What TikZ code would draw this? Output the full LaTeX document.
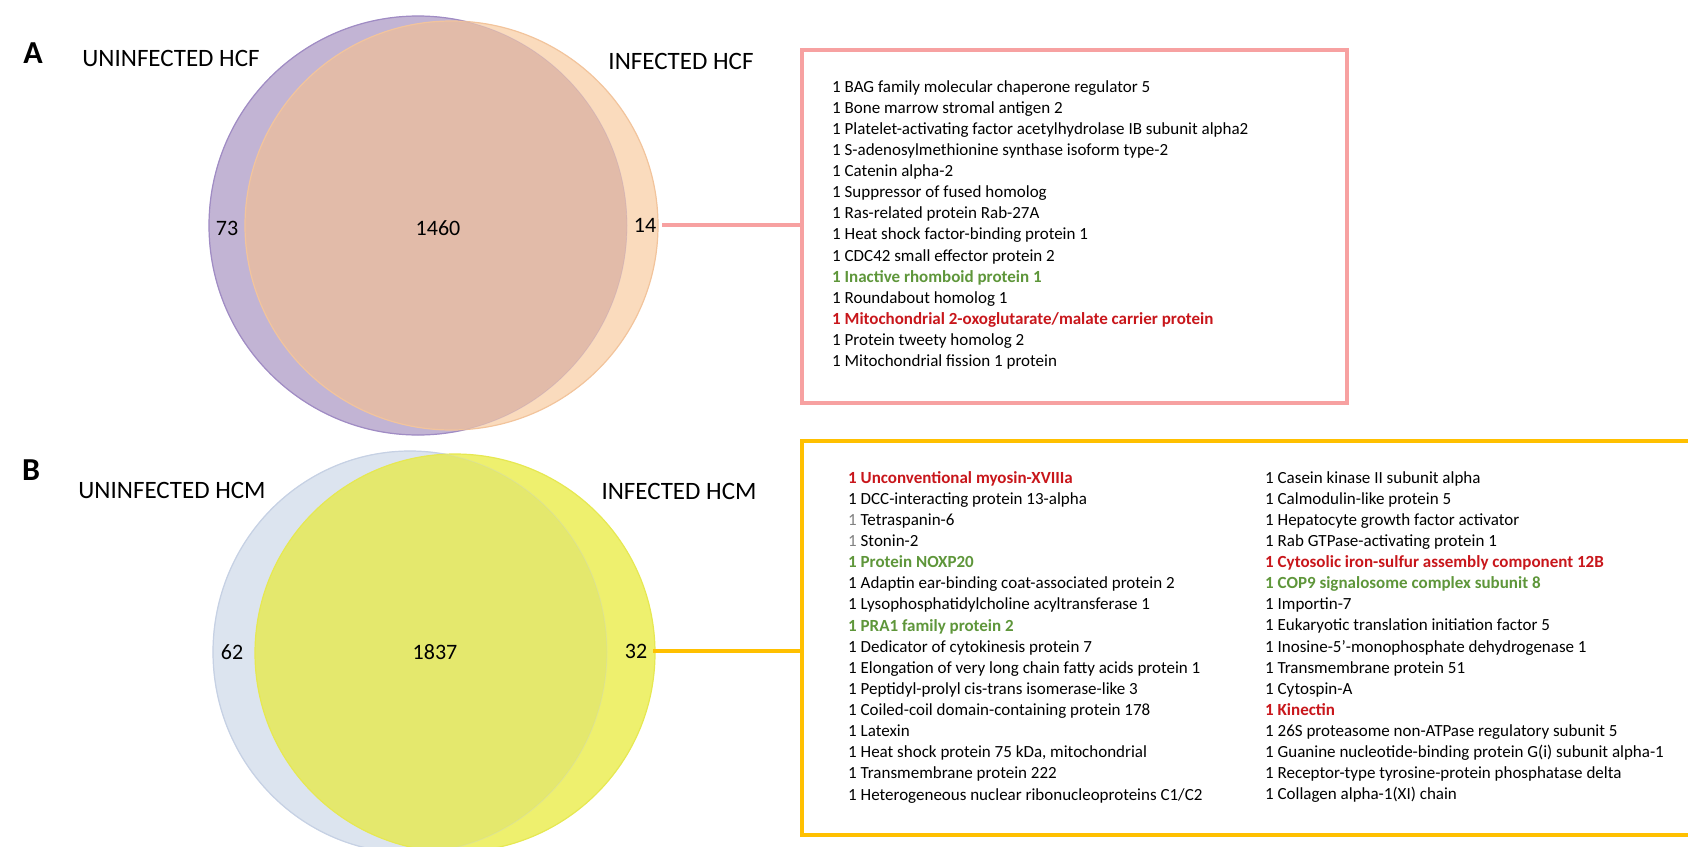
\documentclass[tikz,border=0pt]{standalone}
\usepackage{fontspec}
\setmainfont{Carlito}
\usepackage{tikz}
\usetikzlibrary{positioning,calc}
\definecolor{hcfU}{HTML}{C2B4D4}
\definecolor{hcfUline}{HTML}{A08CC4}
\definecolor{hcfI}{HTML}{FADBBD}
\definecolor{hcfIline}{HTML}{F2C49C}
\definecolor{hcfboth}{HTML}{E2BBA9}
\definecolor{hcmU}{HTML}{DCE4EF}
\definecolor{hcmUline}{HTML}{C6D1E4}
\definecolor{hcmI}{HTML}{EEF06E}
\definecolor{hcmIline}{HTML}{E6E852}
\definecolor{hcmboth}{HTML}{E4E86D}
\definecolor{pinkline}{HTML}{F7A1A1}
\definecolor{goldline}{HTML}{FFC000}
\definecolor{lostred}{HTML}{C8161B}
\definecolor{gaingreen}{HTML}{5E963A}
\def \redp #1{{\color{lostred}\bfseries #1}}
\def \grnp #1{{\color{gaingreen}\bfseries #1}}
\def \gone {{\color{gray}1}}

\begin{document}
\begin{tikzpicture}[x=1pt,y=-1pt]
\tikzset{panel/.style={font=\bfseries\fontsize{32}{36}\selectfont}}
\tikzset{setlabel/.style={font=\fontsize{25}{30}\selectfont}}
\tikzset{count/.style={font=\fontsize{22}{26}\selectfont,inner sep=6pt}}
\tikzset{protlist/.style={align=left,anchor=north west,inner sep=0pt,
font=\fontsize{17}{21.13}\selectfont}}
\tikzset{listbox/.style={draw,line width=3.5pt,inner sep=0pt}}
\useasboundingbox (0,0) rectangle (1688,846);
\clip (0,0) rectangle (1688,846);
% A: fibroblasts
\fill[hcfU] (418,225.5) ellipse [x radius=209, y radius=209.5];
\draw[hcfUline,line width=1.2pt] (418,225.5) ellipse [x radius=209, y radius=209.5];
\fill[hcfI] (451.5,225.5) ellipse [x radius=206.5, y radius=204.5];
\begin{scope}
\clip (418,225.5) ellipse [x radius=209, y radius=209.5];
\fill[hcfboth] (451.5,225.5) ellipse [x radius=206.5, y radius=204.5];
\end{scope}
\draw[hcfIline,line width=1.2pt] (451.5,225.5) ellipse [x radius=206.5, y radius=204.5];
\draw[hcfUline,line width=0.8pt,opacity=0.25] (418,225.5) ellipse [x radius=209, y radius=209.5];
\node[panel] (pA) at (33,53) {A};
\node[setlabel] (uhcf) at (171,58) {UNINFECTED HCF};
\node[setlabel] (ihcf) at (681,61) {INFECTED HCF};
\node[count] (n73) at (227,228) {73};
\node[count] (n1460) at (438,228) {1460};
\node[count] (n14) at (645,225) {14};
\node[listbox,draw=pinkline,minimum width=545pt,minimum height=353pt] (hcfbox) at (1074.5,226.5) {};
\node[protlist] (hcflist) at (832,80) {1 BAG family molecular chaperone regulator 5\\
1 Bone marrow stromal antigen 2\\
1 Platelet-activating factor acetylhydrolase IB subunit alpha2\\
1 S-adenosylmethionine synthase isoform type-2\\
1 Catenin alpha-2\\
1 Suppressor of fused homolog\\
1 Ras-related protein Rab-27A\\
1 Heat shock factor-binding protein 1\\
1 CDC42 small effector protein 2\\
\grnp{1 Inactive rhomboid protein 1}\\
1 Roundabout homolog 1\\
\redp{1 Mitochondrial 2-oxoglutarate/malate carrier protein}\\
1 Protein tweety homolog 2\\
1 Mitochondrial fission 1 protein};
\draw[pinkline,line width=3.5pt] (n14.east) -- (n14.east -| hcfbox.west);
% B: macrophages
\fill[hcmU] (410,652) ellipse [x radius=197, y radius=201];
\draw[hcmUline,line width=1.2pt] (410,652) ellipse [x radius=197, y radius=201];
\fill[hcmI] (455,653) ellipse [x radius=200, y radius=199];
\begin{scope}
\clip (410,652) ellipse [x radius=197, y radius=201];
\fill[hcmboth] (455,653) ellipse [x radius=200, y radius=199];
\end{scope}
\draw[hcmIline,line width=1.2pt] (455,653) ellipse [x radius=200, y radius=199];
\draw[hcmUline,line width=0.8pt,opacity=0.3] (410,652) ellipse [x radius=197, y radius=201];
\node[panel] (pB) at (31,470) {B};
\node[setlabel] (uhcm) at (172,490) {UNINFECTED HCM};
\node[setlabel] (ihcm) at (679,491) {INFECTED HCM};
\node[count] (n62) at (232,652) {62};
\node[count] (n1837) at (435,652) {1837};
\node[count] (n32) at (636,651) {32};
\node[listbox,draw=goldline,minimum width=920pt,minimum height=394pt] (hcmbox) at (1262,638) {};
\node[protlist] (hcmlistl) at (848,471) {\redp{1 Unconventional myosin-XVIIIa}\\
1 DCC-interacting protein 13-alpha\\
\gone{} Tetraspanin-6\\
\gone{} Stonin-2\\
\grnp{1 Protein NOXP20}\\
1 Adaptin ear-binding coat-associated protein 2\\
1 Lysophosphatidylcholine acyltransferase 1\\
\grnp{1 PRA1 family protein 2}\\
1 Dedicator of cytokinesis protein 7\\
1 Elongation of very long chain fatty acids protein 1\\
1 Peptidyl-prolyl cis-trans isomerase-like 3\\
1 Coiled-coil domain-containing protein 178\\
1 Latexin\\
1 Heat shock protein 75 kDa, mitochondrial\\
1 Transmembrane protein 222\\
1 Heterogeneous nuclear ribonucleoproteins C1/C2};
\node[protlist] (hcmlistr) at (1265,471) {1 Casein kinase II subunit alpha\\
1 Calmodulin-like protein 5\\
1 Hepatocyte growth factor activator\\
1 Rab GTPase-activating protein 1\\
\redp{1 Cytosolic iron-sulfur assembly component 12B}\\
\grnp{1 COP9 signalosome complex subunit 8}\\
1 Importin-7\\
1 Eukaryotic translation initiation factor 5\\
1 Inosine-5'-monophosphate dehydrogenase 1\\
1 Transmembrane protein 51\\
1 Cytospin-A\\
\redp{1 Kinectin}\\
1 26S proteasome non-ATPase regulatory subunit 5\\
1 Guanine nucleotide-binding protein G(i) subunit alpha-1\\
1 Receptor-type tyrosine-protein phosphatase delta\\
1 Collagen alpha-1(XI) chain};
\draw[goldline,line width=3.5pt] (n32.east) -- (n32.east -| hcmbox.west);
\end{tikzpicture}
\end{document}
